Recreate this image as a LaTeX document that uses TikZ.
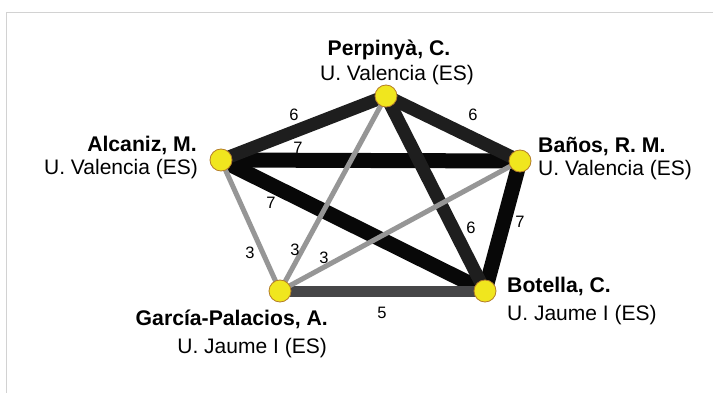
\documentclass[tikz,border=0pt]{standalone}
\usepackage{fontspec}
\setmainfont{Liberation Sans}
\pgfdeclarelayer{back}
\pgfdeclarelayer{bg}
\pgfsetlayers{back,bg,main}
\definecolor{nodefill}{RGB}{240,230,30}
\definecolor{nodeedge}{RGB}{180,125,40}
\definecolor{eseven}{RGB}{8,8,8}
\definecolor{esix}{RGB}{30,30,30}
\definecolor{efive}{RGB}{70,70,72}
\definecolor{ethree}{RGB}{150,150,150}
\definecolor{framec}{RGB}{210,210,210}
\tikzset{
  author/.style={circle, fill=nodefill, draw=nodeedge, line width=0.8pt, minimum size=22pt, inner sep=0pt},
  namelab/.style={inner sep=0pt, font=\fontsize{21.2}{24}\selectfont\bfseries},
  afflab/.style={inner sep=0pt, font=\fontsize{21}{24}\selectfont},
  wlab/.style={inner sep=0pt, font=\fontsize{16.5}{20}\selectfont},
  wseven/.style={draw=eseven, line width=15pt},
  wsix/.style={draw=esix, line width=13pt},
  wfive/.style={draw=efive, line width=11pt},
  wthree/.style={draw=ethree, line width=5pt},
}
\begin{document}
\begin{tikzpicture}[x=1pt,y=-1pt]
\useasboundingbox (0,0) rectangle (713,393);
\begin{pgfonlayer}{back}
\fill[white] (0,0) rectangle (713,393);
\draw[framec, line width=1pt] (6,393) -- (6,13) -- (713,13);
\end{pgfonlayer}

% authors
\node[author] (P) at (386,96) {};
\node[author] (A) at (221,160) {};
\node[author] (B) at (520,161) {};
\node[author] (G) at (280,291) {};
\node[author] (T) at (485,291) {};

% edges
\begin{pgfonlayer}{bg}
\draw[wseven] (A.center) -- (B.center);
\draw[wseven] (A.center) -- (T.center);
\draw[wseven] (B.center) -- (T.center);
\draw[wsix] (P.center) -- (A.center);
\draw[wsix] (P.center) -- (B.center);
\draw[wsix] (P.center) -- (T.center);
\draw[wfive] (G.center) -- (T.center);
\draw[wthree] (G.center) -- (A.center);
\draw[wthree] (G.center) -- (P.center);
\draw[wthree] (G.center) -- (B.center);
\end{pgfonlayer}

% edge weights
\node[wlab] (lPA) at (294,115) {6};
\node[wlab] (lPB) at (473,115) {6};
\node[wlab] (lAB) at (298,148) {7};
\node[wlab] (lAT) at (271,203) {7};
\node[wlab] (lGA) at (250,253) {3};
\node[wlab] (lGP) at (295,250) {3};
\node[wlab] (lGB) at (324,258) {3};
\node[wlab] (lPT) at (471,228) {6};
\node[wlab] (lGT) at (382,313) {5};
\node[wlab] (lBT) at (520,222) {7};

% labels
\node[namelab, anchor=base] (Pn) at (389,56) {Perpinyà, C.};
\node[afflab, anchor=base] (Pa) at (397,81) {U. Valencia (ES)};
\node[namelab, anchor=base east] (An) at (197,152) {Alcaniz, M.};
\node[afflab, anchor=base east] (Aa) at (198,175) {U. Valencia (ES)};
\node[namelab, anchor=base west] (Bn) at (538,153) {Baños, R. M.};
\node[afflab, anchor=base west] (Ba) at (538,176) {U. Valencia (ES)};
\node[namelab, anchor=base east] (Gn) at (328,325) {García-Palacios, A.};
\node[afflab, anchor=base east] (Ga) at (327,353) {U. Jaume I (ES)};
\node[namelab, anchor=base west] (Tn) at (507,292) {Botella, C.};
\node[afflab, anchor=base west] (Ta) at (507,320) {U. Jaume I (ES)};
\end{tikzpicture}
\end{document}
